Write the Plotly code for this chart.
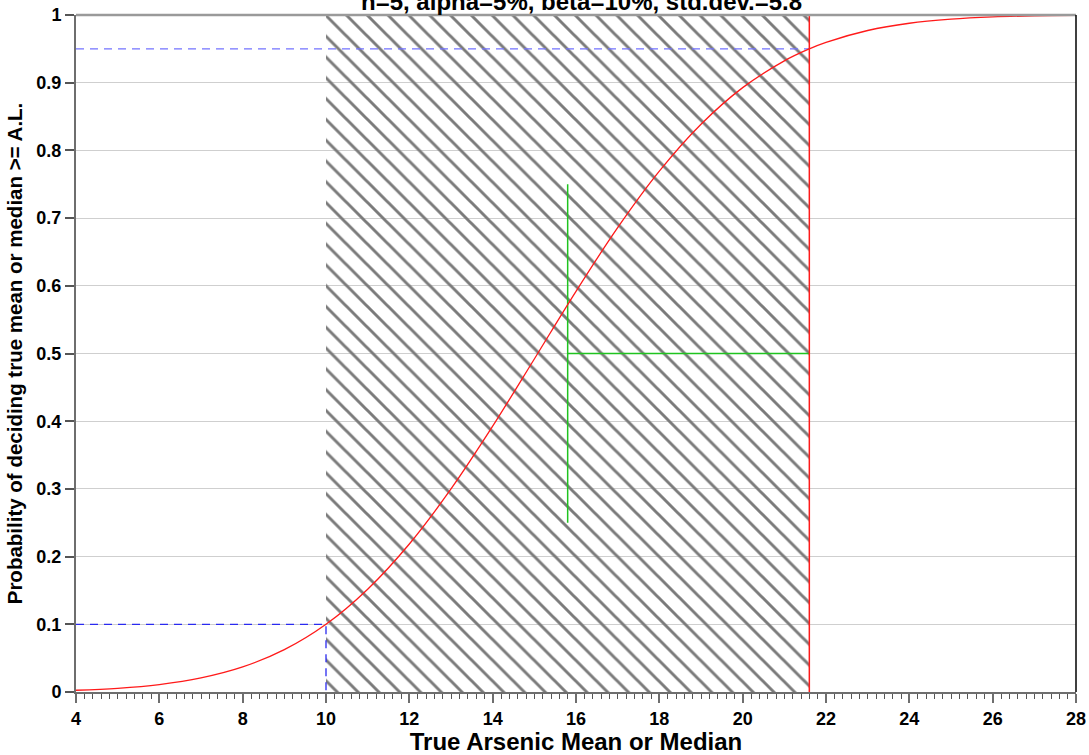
import plotly.graph_objects as go

# Decision performance curve: probability of deciding the true mean >= action level
true_mean = [4, 5, 6, 7, 8, 9, 10, 11, 12, 13, 14, 15, 16, 17, 18, 19, 20,
             21, 21.6, 22, 23, 24, 25, 26, 27, 28]
prob_decide = [0.0026, 0.0055, 0.0110, 0.0208, 0.0370, 0.0625, 0.100, 0.1518,
               0.2186, 0.2999, 0.3926, 0.4919, 0.5918, 0.6859, 0.7693, 0.8386,
               0.8927, 0.9323, 0.950, 0.9596, 0.9771, 0.9878, 0.9938, 0.9971,
               0.9987, 0.9994]

# Design parameters
lbgr = 10.0            # lower bound of the gray region
action_level = 21.6    # action level (upper bound of the gray region)
alpha = 0.05
beta = 0.10
width_marker_x = 15.8  # green marker position
width_marker_y = [0.25, 0.75]
mid_prob = 0.5

x_range = [4, 28]
y_range = [0, 1]

FONT = "Liberation Sans, Arial, sans-serif"
BLUE_HI = "#7373ff"
BLUE_LO = "#2a2af0"
GREEN = "#1fc41f"
RED = "#ff1a1a"

fig = go.Figure()

# Gray region, hatched
fig.add_trace(go.Scatter(
    x=[lbgr, lbgr, action_level, action_level, lbgr],
    y=[y_range[0], y_range[1], y_range[1], y_range[0], y_range[0]],
    mode="none", fill="toself", fillcolor="rgba(0,0,0,0)",
    fillpattern=dict(shape="\\", size=14.7, solidity=0.2,
                     fgcolor="#7a7a7a", fgopacity=1, bgcolor="rgba(0,0,0,0)"),
    hoverinfo="skip", showlegend=False))

# 1 - alpha at the action level
fig.add_trace(go.Scatter(
    x=[x_range[0], action_level], y=[1 - alpha, 1 - alpha], mode="lines",
    line=dict(color=BLUE_HI, width=1.3, dash="8px,6px"), showlegend=False))

# beta at the lower bound of the gray region
fig.add_trace(go.Scatter(
    x=[x_range[0], lbgr, lbgr], y=[beta, beta, y_range[0]], mode="lines",
    line=dict(color=BLUE_LO, width=1.3, dash="8px,6px"), showlegend=False))

# Green markers
fig.add_trace(go.Scatter(
    x=[width_marker_x, width_marker_x], y=width_marker_y, mode="lines",
    line=dict(color=GREEN, width=1.5), showlegend=False))
fig.add_trace(go.Scatter(
    x=[width_marker_x, action_level], y=[mid_prob, mid_prob], mode="lines",
    line=dict(color=GREEN, width=1.5), showlegend=False))

# Performance curve
fig.add_trace(go.Scatter(
    x=true_mean, y=prob_decide, mode="lines",
    line=dict(color=RED, width=1.3, shape="spline", smoothing=1.0),
    showlegend=False))

# Action level line
fig.add_trace(go.Scatter(
    x=[action_level, action_level], y=y_range, mode="lines",
    line=dict(color=RED, width=1.5), showlegend=False))

fig.update_layout(
    width=1089, height=755,
    margin=dict(l=76, r=13, t=15, b=63),
    paper_bgcolor="white", plot_bgcolor="white",
    font=dict(family=FONT, color="black"),
    showlegend=False,
    xaxis=dict(
        range=x_range, dtick=2, tick0=4, automargin=False,
        showgrid=False, zeroline=False,
        showline=True, linecolor="#6e6e6e", linewidth=2,
        ticks="outside", ticklen=9, tickwidth=2, tickcolor="#6e6e6e",
        minor=dict(dtick=0.2, tick0=4, ticks="outside", ticklen=5,
                   tickwidth=1.2, tickcolor="#555555", showgrid=False),
        tickfont=dict(size=18, family=FONT, color="black", weight="bold"),
        title=dict(text="<b>True Arsenic Mean or Median</b>",
                   font=dict(size=24, family=FONT), standoff=4),
    ),
    yaxis=dict(
        range=y_range, dtick=0.1, tick0=0, automargin=False,
        showgrid=True, gridcolor="#cfcfcf", gridwidth=1.3,
        zeroline=False,
        showline=True, linecolor="#6e6e6e", linewidth=2,
        ticks="outside", ticklen=9, tickwidth=2, tickcolor="#555555",
        tickfont=dict(size=18, family=FONT, color="black", weight="bold"),
        title=dict(text="<b>Probability of deciding true mean or median >= A.L.</b>",
                   font=dict(size=20.5, family=FONT), standoff=8),
    ),
    shapes=[
        # frame: grey top edge, black right edge
        dict(type="line", xref="paper", yref="paper", x0=0, x1=1, y0=1, y1=1,
             line=dict(color="#9a9a9a", width=2.5), layer="above"),
        dict(type="line", xref="paper", yref="paper", x0=1, x1=1, y0=0, y1=1,
             line=dict(color="black", width=1.5), layer="above"),
    ],
    annotations=[
        dict(text="<b>n=5, alpha=5%, beta=10%, std.dev.=5.8</b>",
             xref="paper", yref="paper", x=0.505, y=1, xanchor="center",
             yanchor="middle", yshift=14, showarrow=False,
             font=dict(size=24, family=FONT, color="black")),
    ],
)

fig.write_html("out.html")
